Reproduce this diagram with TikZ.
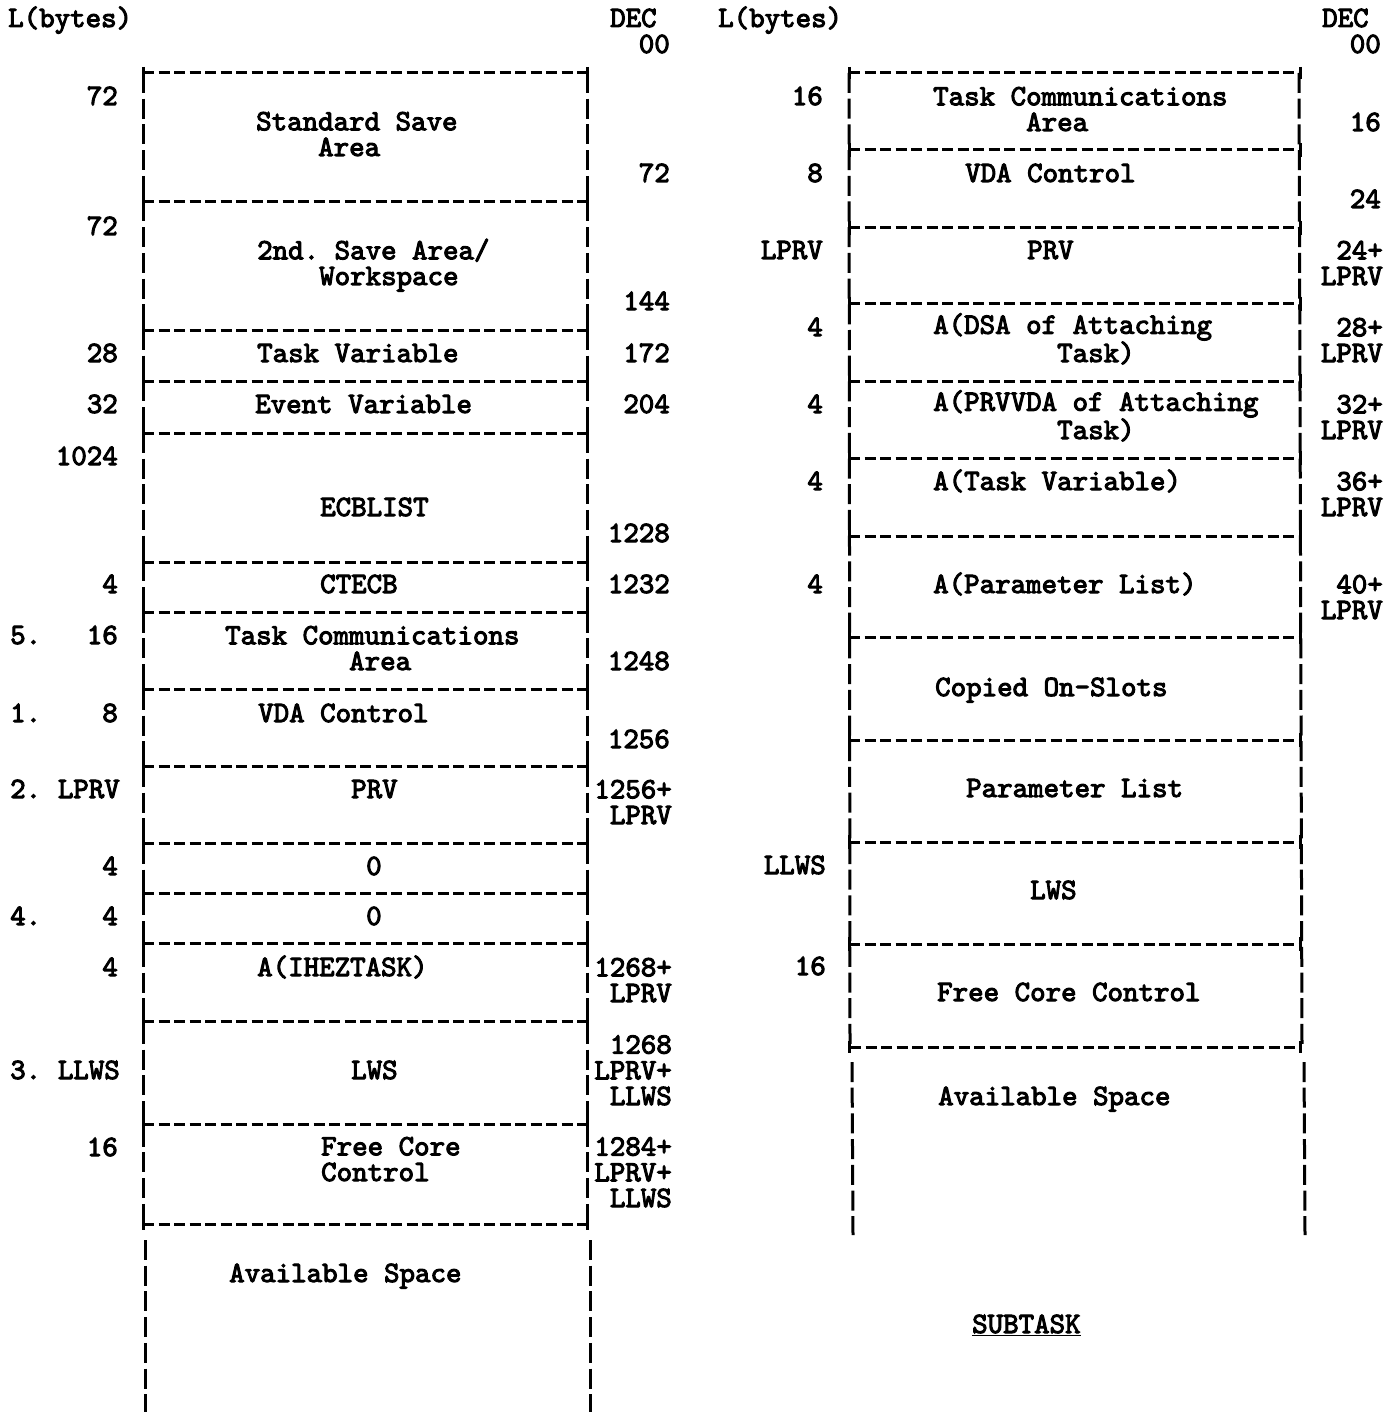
\documentclass[tikz,border=0pt]{standalone}
\usepackage{fontspec}
\newfontfamily\typew{lmmono10-regular.otf}[FakeBold=3.4]
\usetikzlibrary{positioning}
\newlength{\cellw}
\setlength{\cellw}{15.5pt}

\begin{document}
\frenchspacing
\begin{tikzpicture}[
  x=1pt, y=-1pt,
  font=\typew\fontsize{29.5}{25.7}\selectfont,
  hdash/.style={line width=3pt, dash pattern=on 11pt off 4.5pt},
  vdash/.style={line width=3pt, dash pattern=on 20pt off 5.7pt},
  tick/.style={line width=3pt},
  len/.style={anchor=base east, inner sep=0pt},
  num/.style={anchor=base west, inner sep=0pt},
  field/.style={anchor=base west, inner sep=0pt, align=left},
  dec/.style={anchor=base east, inner sep=0pt, align=right},
]
\useasboundingbox (0,0) rectangle (1395,1412);

% ---------------- main task (left) ----------------
% multi-line nodes sit on the baseline of their last line
\node[num] (lhead) at (8,27) {L(bytes)};
\node[num] (dhead) at (610,27) {DEC};
\node[dec] (d00) at (670,53) {00};

% outline
\draw[hdash] (143,73) -- (587,73);
\draw[hdash] (143,1224) -- (587,1224);
\draw[vdash] (143,73) -- (143,1224);
\draw[vdash] (587,73) -- (587,1224);
\foreach \yy in {73,1224} {
  \draw[tick] (143,\yy-6) -- (143,\yy+6);
  \draw[tick] (587,\yy-6) -- (587,\yy+6);
}
% separators
\foreach \yy in {202,330,381,433,562,612,689,766,843,893,943,1021,1124} {
  \draw[hdash] (143,\yy) -- (587,\yy);
  \draw[tick] (143,\yy-7) -- (143,\yy+7);
  \draw[tick] (587,\yy-7) -- (587,\yy+7);
}
% available space
\draw[vdash] (145,1240) -- (145,1412);
\draw[vdash] (590,1240) -- (590,1412);

% lengths
\node[len] (la) at (118,105) {72};
\node[len] (lb) at (118,235) {72};
\node[len] (lc) at (118,362) {28};
\node[len] (ld) at (118,413) {32};
\node[len] (le) at (118,465) {1024};
\node[len] (lf) at (118,593) {4};
\node[len] (lg) at (118,644) {16};
\node[len] (lh) at (118,722) {8};
\node[len] (li) at (120,798) {LPRV};
\node[len] (lj) at (118,875) {4};
\node[len] (lk) at (118,925) {4};
\node[len] (ll) at (118,976) {4};
\node[len] (lm) at (120,1079) {LLWS};
\node[len] (ln) at (118,1156) {16};
% notes
\node[num] (n5) at (10,644) {5.};
\node[num] (n1) at (10,722) {1.};
\node[num] (n2) at (10,798) {2.};
\node[num] (n4) at (10,925) {4.};
\node[num] (n3) at (10,1079) {3.};

% fields
\node[field] (ssa) at (256,156) {Standard Save\\\hspace*{4\cellw}Area};
\node[field] (wsp) at (257,285) {2nd. Save Area/\\\hspace*{4\cellw}Workspace};
\node[field] (tvar) at (257,362) {Task Variable};
\node[field] (evar) at (255,413) {Event Variable};
\node[field] (ecb) at (320,516) {ECBLIST};
\node[field] (cte) at (320,593) {CTECB};
\node[field] (tca) at (225,670) {Task Communications\\\hspace*{8\cellw}Area};
\node[field] (vda) at (258,722) {VDA Control};
\node[field] (prv) at (351,798) {PRV};
\node[field] (zra) at (366,875) {0};
\node[field] (zrb) at (366,925) {0};
\node[field] (ihez) at (257,976) {A(IHEZTASK)};
\node[field] (lws) at (351,1079) {LWS};
\node[field] (fcc) at (321,1181) {Free Core\\Control};
\node[field] (avs) at (229,1282) {Available Space};

% offsets
\node[dec] (da) at (670,182) {72};
\node[dec] (db) at (670,310) {144};
\node[dec] (dc) at (670,362) {172};
\node[dec] (dd) at (670,413) {204};
\node[dec] (de) at (670,542) {1228};
\node[dec] (df) at (670,593) {1232};
\node[dec] (dg) at (670,670) {1248};
\node[dec] (dh) at (670,748) {1256};
\node[dec] (di) at (672,824) {1256+\\LPRV};
\node[dec] (dj) at (672,1002) {1268+\\LPRV};
\node[dec] (dk) at (672,1105) {1268\\LPRV+\\LLWS};
\node[dec] (dl) at (672,1207) {1284+\\LPRV+\\LLWS};

% ---------------- subtask (right) ----------------
\node[num] (rlhead) at (718,27) {L(bytes)};
\node[num] (rdhead) at (1322,27) {DEC};
\node[dec] (r00) at (1381,53) {00};

% outline
\draw[hdash] (849,73) -- (1299,73);
\draw[hdash] (850,1047) -- (1302,1047);
\draw[vdash] (849,73) -- (850,1047);
\draw[vdash] (1299,73) -- (1302,1047);
\foreach \yy in {73,1047} {
  \draw[tick] (849,\yy-6) -- (849,\yy+6);
  \draw[tick] (1300,\yy-6) -- (1300,\yy+6);
}
% separators
\foreach \yy in {150,228,304,381,458,536,637,740,842,944} {
  \draw[hdash] (849,\yy) -- (1300,\yy);
  \draw[tick] (849,\yy-7) -- (849,\yy+7);
  \draw[tick] (1300,\yy-7) -- (1300,\yy+7);
}
% available space
\draw[vdash] (852,1062) -- (853,1235);
\draw[vdash] (1304,1062) -- (1305,1235);

% lengths
\node[len] (ra) at (823,105) {16};
\node[len] (rb) at (823,182) {8};
\node[len] (rc) at (823,259) {LPRV};
\node[len] (rd) at (823,336) {4};
\node[len] (re) at (823,413) {4};
\node[len] (rf) at (823,490) {4};
\node[len] (rg) at (823,593) {4};
\node[len] (rh) at (826,874) {LLWS};
\node[len] (ri) at (826,975) {16};

% fields
\node[field] (rtca) at (933,131) {Task Communications\\\hspace*{6\cellw}Area};
\node[field] (rvda) at (965,182) {VDA Control};
\node[field] (rprv) at (1027,259) {PRV};
\node[field] (rdsa) at (933,362) {A(DSA of Attaching\\\hspace*{8\cellw}Task)};
\node[field] (rpvd) at (933,439) {A(PRVVDA of Attaching\\\hspace*{8\cellw}Task)};
\node[field] (rtv) at (933,490) {A(Task Variable)};
\node[field] (rpl) at (933,593) {A(Parameter List)};
\node[field] (rcos) at (935,696) {Copied On-Slots};
\node[field] (rpar) at (966,797) {Parameter List};
\node[field] (rlws) at (1030,899) {LWS};
\node[field] (rfcc) at (937,1001) {Free Core Control};
\node[field] (ravs) at (938,1105) {Available Space};

% offsets
\node[dec] (rda) at (1381,131) {16};
\node[dec] (rdb) at (1381,208) {24};
\node[dec] (rdc) at (1383,285) {24+\\LPRV};
\node[dec] (rdd) at (1383,362) {28+\\LPRV};
\node[dec] (rde) at (1383,439) {32+\\LPRV};
\node[dec] (rdf) at (1383,516) {36+\\LPRV};
\node[dec] (rdg) at (1383,619) {40+\\LPRV};

% caption
\node[num] (sub) at (972,1333) {\underline{SUBTASK}};

\end{tikzpicture}
\end{document}
